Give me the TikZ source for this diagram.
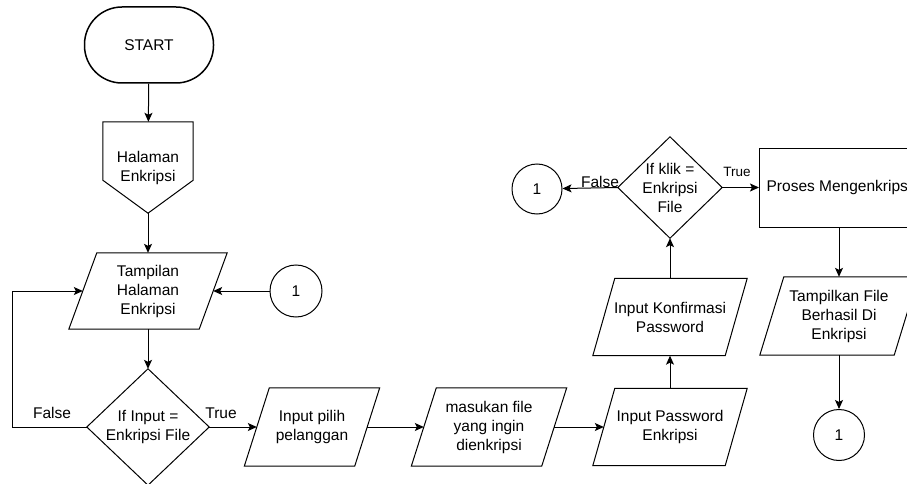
\documentclass[tikz,border=0pt]{standalone}
\usepackage{fontspec}
\setmainfont{Liberation Sans}
\usetikzlibrary{arrows.meta}
\tikzset{
  ln/.style={line width=1pt, draw=black},
  arr/.style={ln, -{Stealth[length=9pt,width=8pt,inset=2pt]}},
  box/.style={inner sep=0pt, align=center, font=\fontsize{15.5}{19}\selectfont},
  lbl/.style={inner sep=0pt, font=\fontsize{15.5}{19}\selectfont},
  conn/.style={box, draw, circle, line width=1pt, minimum size=#1},
  conn/.default=52pt,
}
% name, position, width, height, half skew, text
\newcommand{\iobox}[6]{%
  \node[box, minimum width=#3pt, minimum height=#4pt] (#1) at (#2) {#6};
  \draw[ln] ([xshift=-#5pt]#1.south west) -- ([xshift=-#5pt]#1.south east) -- ([xshift=#5pt]#1.north east) -- ([xshift=#5pt]#1.north west) -- cycle;
}
\begin{document}
\begin{tikzpicture}[x=1pt,y=-1pt]
\useasboundingbox (0,0) rectangle (907,484);

% START
\node[box, draw, line width=1.5pt, rounded corners=37.5pt, minimum width=129pt, minimum height=76pt] (start) at (149,45) {START};

% Halaman Enkripsi (off-page shape)
\node[box, minimum width=90pt, minimum height=91pt] (hal) at (148,167.5) {Halaman\\Enkripsi};
\draw[ln] (hal.north west) -- (hal.north east) -- ([yshift=33pt]hal.south east) -- (hal.south) -- ([yshift=33pt]hal.south west) -- cycle;

% Tampilan Halaman Enkripsi
\iobox{tamp}{148,291}{130}{76}{14}{Tampilan\\Halaman\\Enkripsi}

% connector 1 (left)
\node[conn] (c1) at (296,291) {1};

% Decision 1
\node[box, minimum width=122pt, minimum height=116pt] (d1) at (148,427) {If Input =\\Enkripsi File};
\draw[ln] (d1.north) -- (d1.east) -- (d1.south) -- (d1.west) -- cycle;

% bottom row
\iobox{pilih}{312,427}{110}{78}{12.5}{Input pilih\\pelanggan}
\iobox{masuk}{489,427}{130}{78}{12.5}{masukan file\\yang ingin\\dienkripsi}
\iobox{pass}{670,427}{132}{77}{11}{Input Password\\Enkripsi}
\iobox{konf}{670,317}{132}{77}{11}{Input Konfirmasi\\Password}

% Decision 2
\node[box, minimum width=104pt, minimum height=101pt] (d2) at (670,187.5) {If klik =\\Enkripsi\\File};
\draw[ln] (d2.north) -- (d2.east) -- (d2.south) -- (d2.west) -- cycle;

% connector 1 (top)
\node[conn=50pt] (c2) at (537,189) {1};

% Process
\node[box, draw, line width=1pt, minimum width=159pt, minimum height=79pt] (proc) at (839,187.5) {Proses Mengenkripsi};

% Tampilkan File
\iobox{tampk}{839,316}{134}{78}{12}{Tampilkan File\\Berhasil Di\\Enkripsi}

% connector 1 (bottom)
\node[conn=51pt] (c3) at (839,435) {1};

% connectors
\draw[arr] (start) -- (hal);
\draw[arr] (hal.south) -- (tamp.north);
\draw[arr] (c1) -- (tamp.east);
\draw[arr] (tamp.south) -- (d1.north);
\coordinate (loopL) at (12,427);
\draw[arr] (d1.west) -- (loopL) |- (tamp.west);
\draw[arr] (d1.east) -- (pilih.west);
\draw[arr] (pilih.east) -- (masuk.west);
\draw[arr] (masuk.east) -- (pass.west);
\draw[arr] (pass.north) -- (konf.south);
\draw[arr] (konf.north) -- (d2.south);
\draw[arr] (d2.west) -- (c2);
\draw[arr] (d2.east) -- (proc.west);
\draw[arr] (proc.south) -- (tampk.north);
\draw[arr] (tampk.south) -- (c3);

% labels
\node[lbl] (lfalse1) at (52,413) {False};
\node[lbl] (ltrue1) at (221,413) {True};
\node[lbl] (lfalse2) at (600,182) {False};
\node[lbl, font=\fontsize{13.5}{16}\selectfont] (ltrue2) at (737,172) {True};
\end{tikzpicture}
\end{document}
